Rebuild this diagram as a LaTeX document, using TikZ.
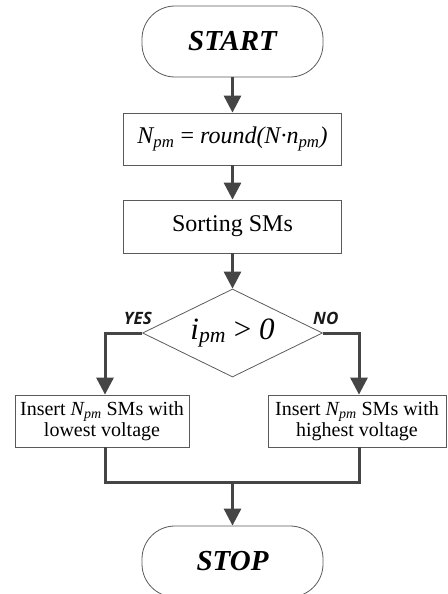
\documentclass[tikz,border=0pt]{standalone}
\usepackage{fontspec}
\setmainfont{Liberation Serif}
\newfontfamily\labfont{Open Sans}
\usetikzlibrary{shapes.geometric,arrows.meta}

\definecolor{boxline}{HTML}{5A5A5A}
\definecolor{flow}{HTML}{454545}

\tikzset{
  terminal/.style={draw=boxline, line width=0.8pt, rounded corners=33pt,
    minimum width=181pt, minimum height=71pt, inner sep=0pt,
    font=\fontsize{29}{33}\selectfont\bfseries\itshape},
  process/.style={draw=boxline, line width=0.8pt, inner sep=0pt,
    minimum height=52pt, align=center},
  decision/.style={draw=boxline, line width=0.8pt, shape=diamond, aspect=2.05,
    minimum width=180pt, minimum height=88pt, inner sep=0pt,
    font=\fontsize{31}{34}\selectfont\itshape},
  flowline/.style={draw=flow, line width=3pt},
  flowarrow/.style={flowline, -{Triangle[width=17pt,length=17pt]}},
  branchlabel/.style={inner sep=0pt, font=\labfont\fontsize{17}{20}\selectfont\bfseries\itshape, text=black!90}
}

\begin{document}
\begin{tikzpicture}[x=1pt, y=-1pt]
  \useasboundingbox (0,0) rectangle (447,594);

  % main column
  \node[terminal] (start) at (232.5,41.5) {START};
  \node[process, minimum width=218pt, font=\fontsize{24}{28}\selectfont\itshape]
    (count) at (232.5,139) {N\textsubscript{pm} {\upshape=} round(N·n\textsubscript{pm})};
  \node[process, minimum width=218pt, minimum height=53pt, font=\fontsize{24}{28}\selectfont]
    (sort) at (232.5,226.5) {Sorting SMs};
  \node[decision] (test) at (232.5,333) {i\textsubscript{pm} {\upshape >} 0};

  % the two branches
  \node[process, minimum width=174pt, font=\fontsize{20}{21}\selectfont]
    (low) at (102,421) {Insert \textit{N\textsubscript{pm}} SMs with\\lowest voltage};
  \node[process, minimum width=178pt, font=\fontsize{20}{21}\selectfont]
    (high) at (357,421) {Insert \textit{N\textsubscript{pm}} SMs with\\highest voltage};

  \node[terminal] (stop) at (232.5,561.5) {STOP};

  \node[branchlabel, anchor=base east] (yes) at (152,324) {YES};
  \node[branchlabel, anchor=base west] (no) at (313,324) {NO};

  \coordinate (merge) at (232.5,482);

  % connectors
  \draw[flowarrow] (start.south) -- (count.north);
  \draw[flowarrow] (count.south) -- (sort.north);
  \draw[flowarrow] (sort.south) -- (test.north);
  \draw[flowarrow] (test.west) -| ([xshift=3pt]low.north);
  \draw[flowarrow] (test.east) -| ([xshift=2pt]high.north);
  \draw[flowline] ([xshift=3pt]low.south) |- (merge) -| ([xshift=2pt]high.south);
  \draw[flowarrow] (merge) -- (stop.north);
\end{tikzpicture}
\end{document}
